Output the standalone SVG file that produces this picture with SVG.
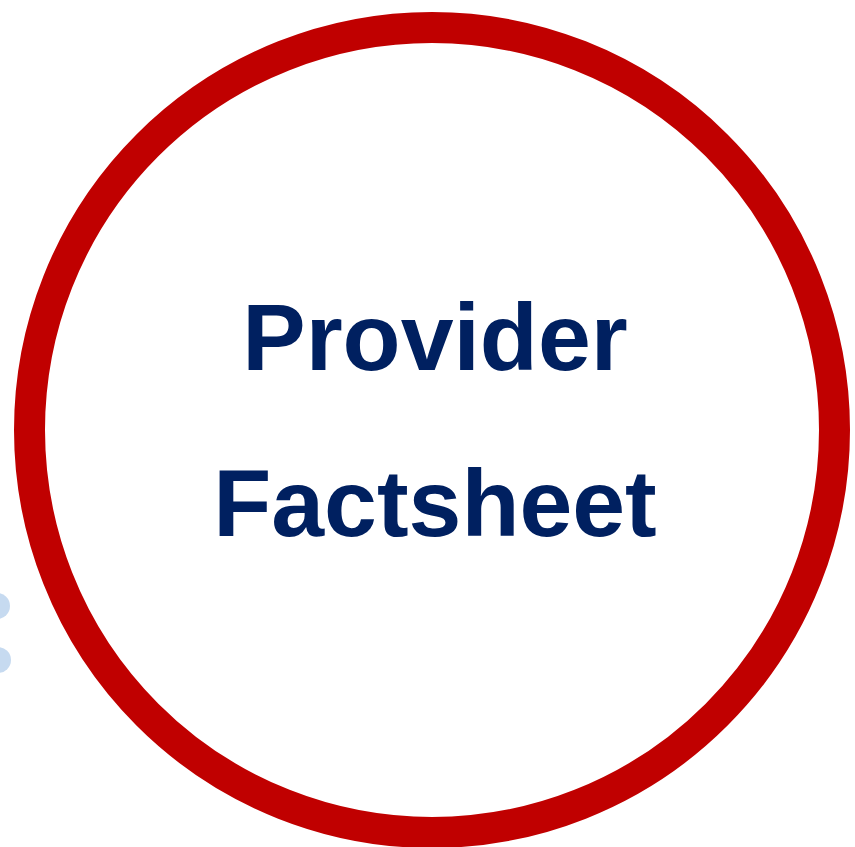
<svg xmlns="http://www.w3.org/2000/svg" width="855" height="847" viewBox="0 0 855 847">
<style>
.dot{fill:#C6DAF0}
.ring{fill:#FFFFFF;stroke:#C00000;stroke-width:31}
.lbl{font-family:"Liberation Sans",Arial,sans-serif;font-weight:bold;font-size:95px;fill:#002060;text-anchor:middle}
</style>
<rect width="855" height="847" fill="#FFFFFF"/>
<g id="dots">
<circle class="dot" cx="-3" cy="606" r="13"/>
<circle class="dot" cx="-2" cy="660" r="13"/>
</g>
<g id="factsheet">
<circle class="ring" cx="432" cy="430" r="402.5"/>
<text class="lbl" x="435" y="370">Provider</text>
<text class="lbl" x="435" y="536">Factsheet</text>
</g>
<g id="connectors"/>
</svg>
